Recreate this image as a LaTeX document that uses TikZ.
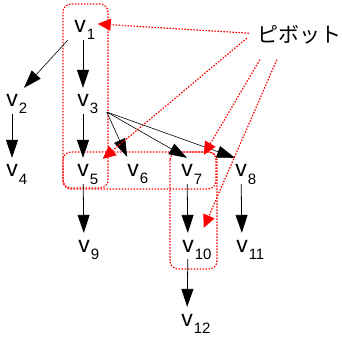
\documentclass[tikz,border=0pt]{standalone}
\usepackage{fontspec}
\setmainfont{Liberation Sans}
\newfontfamily\jpfont{Noto Sans CJK JP}
\usetikzlibrary{arrows.meta, positioning}
\newcommand{\vsub}[1]{v\rlap{\smash{\kern1pt\raisebox{-7pt}{\fontsize{15}{15}\selectfont #1}}}}

\begin{document}
\begin{tikzpicture}[x=1pt, y=-1pt,
  vnode/.style={inner sep=0pt, outer sep=7pt, anchor=base,
                font=\fontsize{23}{23}\selectfont},
  arr/.style={-{Triangle[length=18pt,width=12pt]}, line width=0.8pt},
  thinarr/.style={arr, line width=0.6pt},
  pivline/.style={red, line width=1.2pt, dash pattern=on 1.5pt off 1.5pt},
  pivarr/.style={pivline, -{Triangle[length=13pt,width=12pt]}},
  pivbox/.style={pivline, rounded corners=8pt}]
  \useasboundingbox (0,0) rectangle (341,344);

  % Pivot groups
  \draw[pivbox] (63,4) rectangle (108,188);
  \draw[pivbox] (63,152) rectangle (216,189);
  \draw[pivbox] (170,152) rectangle (217,269);

  % Vertices
  \node[vnode] (v1) at (80,33) {\vsub{1}};
  \node[vnode] (v2) at (12,107) {\vsub{2}};
  \node[vnode] (v3) at (83,107) {\vsub{3}};
  \node[vnode] (v4) at (12,177) {\vsub{4}};
  \node[vnode] (v5) at (83,177) {\vsub{5}};
  \node[vnode] (v6) at (133,176) {\vsub{6}};
  \node[vnode] (v7) at (187,177) {\vsub{7}};
  \node[vnode] (v8) at (241,177) {\vsub{8}};
  \node[vnode] (v9) at (84,252) {\vsub{9}};
  \node[vnode] (v10) at (188,252) {\vsub{10}};
  \node[vnode] (v11) at (242,252) {\vsub{11}};
  \node[vnode] (v12) at (187,326) {\vsub{12}};

  % Label
  \node[inner sep=0pt, anchor=base, font=\jpfont\fontsize{21}{21}\selectfont]
    (piv) at (299,43) {ピボット};

  % Tree arrows
  \draw[thinarr] (v1) -- (v2);
  \draw[arr] (v1.south -| v3) -- (v3);
  \draw[arr] (v2) -- (v4);
  \draw[arr] (v3) -- (v5);
  \coordinate (v3r) at ([xshift=11pt,yshift=2pt]v3.south east);
  \draw[thinarr] (v3r) -- (v6);
  \draw[thinarr] (v3r) -- (v7.north);
  \draw[thinarr] (v3r) -- ([xshift=-6pt]v8.north);
  \draw[arr] (v5) -- (v9);
  \draw[arr] (v7) -- (v10);
  \draw[arr] (v8) -- (v11);
  \draw[arr] (v10) -- (v12);

  % Pivot arrows
  \draw[pivarr] ([xshift=-8pt,yshift=2pt]piv.west)
    -- ([xshift=5pt,yshift=3pt]v1.east);
  \draw[pivarr] ([xshift=-10pt,yshift=-3pt]piv.west)
    -- ([xshift=7pt,yshift=-1pt]v5.north east);
  \draw[pivarr] ([xshift=3pt,yshift=-15pt]piv.south west)
    -- ([xshift=4pt,yshift=3pt]v7.north east);
  \draw[pivarr] ([xshift=20pt,yshift=-15pt]piv.south west)
    -- ([xshift=3pt,yshift=5pt]v10.north east);
\end{tikzpicture}
\end{document}
